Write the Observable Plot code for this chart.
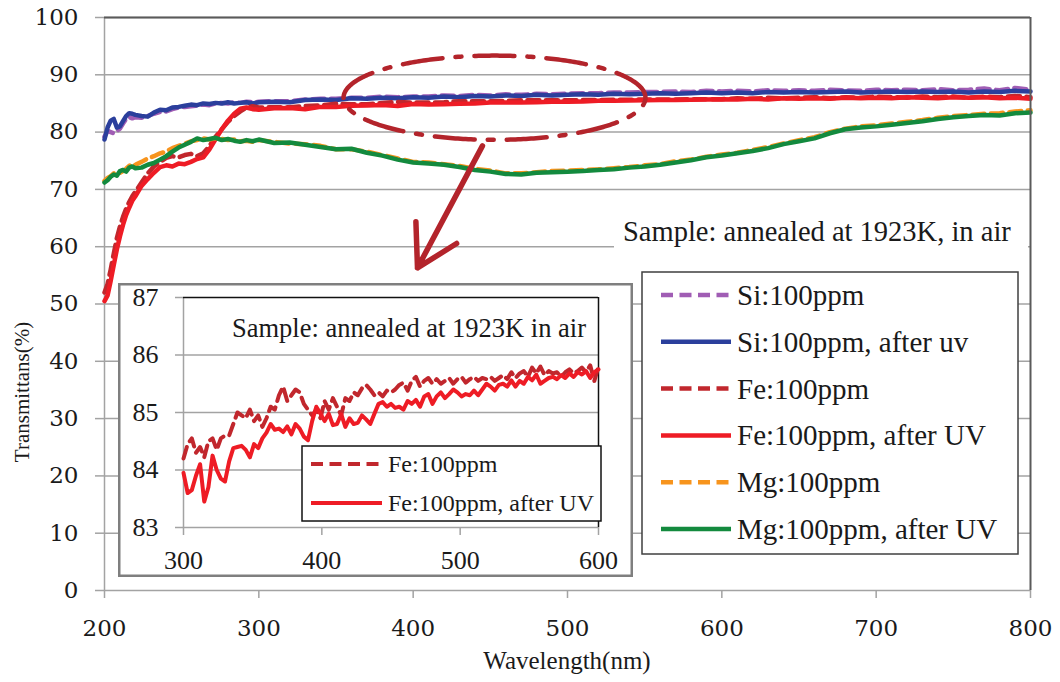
<!DOCTYPE html>
<html><head><meta charset="utf-8">
<script src="https://cdn.jsdelivr.net/npm/d3@7"></script>
<script src="https://cdn.jsdelivr.net/npm/@observablehq/plot@0.6"></script>
<style>
html,body{margin:0;padding:0;background:#fff;overflow:hidden;}
#wrap{position:relative;width:1060px;height:682px;}
#wrap > svg{position:absolute;}
</style></head><body><div id="wrap"></div>
<script>
// ---------- data (main chart) ----------
const wavelengths = [...d3.range(200, 221, 2), ...d3.range(224, 301, 4), ...d3.range(310, 801, 10)];
const xTicks = [200, 300, 400, 500, 600, 700, 800];
const yTicks = [0, 10, 20, 30, 40, 50, 60, 70, 80, 90, 100];
const seriesNames = ["Si:100ppm", "Si:100ppm, after uv", "Fe:100ppm", "Fe:100ppm, after UV", "Mg:100ppm", "Mg:100ppm, after UV"];

const siY = [79.2, 80.2, 80.0, 79.8, 80.2, 80.6, 81.5, 82.3, 82.6, 82.4, 82.6,
  82.5, 82.8, 83.2, 83.5, 83.6, 84.0, 84.3, 84.4, 84.5, 84.6, 84.8, 84.7, 85.0, 85.1, 85.0, 85.2, 85.1, 85.3, 85.2, 85.3,
  85.4, 85.4, 85.7, 85.8, 85.8, 86.0, 86.0, 86.2, 86.1, 86.2,
  86.2, 86.4, 86.3, 86.5, 86.4, 86.6, 86.5, 86.7, 86.6, 86.7,
  86.8, 86.8, 86.9, 86.9, 87.0, 87.0, 87.1, 87.0, 87.2, 87.1,
  87.2, 87.1, 87.3, 87.2, 87.3, 87.2, 87.4, 87.3, 87.2, 87.4,
  87.3, 87.4, 87.3, 87.5, 87.3, 87.4, 87.6, 87.3, 87.7, 87.4];
const siUvY = [78.7, 80.8, 82.0, 82.3, 80.8, 81.0, 81.9, 82.8, 83.3, 83.2, 83.0,
  82.8, 82.7, 83.4, 83.9, 83.8, 84.3, 84.4, 84.6, 84.8, 84.7, 85.0, 84.9, 85.1, 85.0, 85.2, 85.0, 85.1, 85.2, 85.0, 85.2,
  85.3, 85.2, 85.6, 85.7, 85.6, 85.9, 85.8, 86.0, 85.9, 86.1,
  86.0, 86.2, 86.1, 86.3, 86.2, 86.4, 86.3, 86.5, 86.4, 86.5,
  86.6, 86.5, 86.7, 86.6, 86.7, 86.8, 86.7, 86.8, 86.9, 86.8,
  86.9, 86.8, 87.0, 86.9, 87.0, 86.9, 87.0, 87.1, 86.9, 87.0,
  87.1, 87.0, 87.1, 87.0, 87.1, 86.9, 87.1, 87.0, 87.2, 87.1];
const feY = [52.0, 53.5, 56.0, 58.8, 61.5, 63.5, 65.2, 66.6, 67.8, 68.8, 69.6,
  71.2, 72.8, 74.0, 74.8, 75.5, 75.8, 75.6, 76.0, 76.2, 75.8, 76.3, 77.6, 79.2, 80.5, 81.8, 82.8, 83.6, 84.3, 84.5, 84.3,
  84.35, 84.35, 84.55, 84.65, 84.95, 84.85, 84.85, 85.1, 85.25, 85.15,
  85.15, 85.2, 85.4, 85.4, 85.4, 85.45, 85.55, 85.55, 85.55, 85.55,
  85.6, 85.6, 85.65, 85.65, 85.7, 85.7, 85.7, 85.72, 85.75, 85.75,
  85.9, 85.8, 86.0, 85.9, 86.0, 86.1, 85.9, 86.1, 86.0, 86.2,
  86.1, 86.0, 86.2, 86.1, 86.2, 86.0, 86.2, 86.1, 86.3, 86.1];
const feUvY = [50.5, 51.5, 54.0, 56.8, 59.5, 61.8, 63.8, 65.5, 66.8, 68.0, 68.8,
  70.6, 71.8, 72.9, 73.9, 74.2, 74.0, 74.5, 74.4, 74.8, 75.3, 75.6, 77.0, 78.8, 80.5, 82.0, 83.2, 84.1, 84.3, 84.0, 83.9,
  84.15, 84.2, 84.0, 84.4, 84.4, 84.6, 84.65, 84.75, 84.55, 84.9,
  84.8, 84.85, 84.95, 85.0, 85.15, 85.15, 85.15, 85.2, 85.3, 85.3,
  85.35, 85.45, 85.45, 85.5, 85.55, 85.6, 85.6, 85.65, 85.68, 85.72,
  85.7, 85.8, 85.7, 85.9, 85.8, 85.9, 85.8, 86.0, 85.9, 86.0,
  85.9, 86.1, 86.0, 85.9, 86.1, 86.0, 86.1, 85.9, 86.0, 85.8];
const mgY = [71.5, 72.0, 72.3, 72.8, 73.0, 72.9, 73.2, 73.6, 74.1, 74.5, 74.3,
  74.8, 75.4, 75.8, 76.3, 76.6, 77.2, 77.6, 78.0, 78.4, 78.6, 78.9, 78.7, 78.9, 78.8, 78.6, 78.7, 78.4, 78.5, 78.3, 78.6,
  78.3, 78.0, 77.9, 77.6, 77.0, 77.0, 76.6, 76.0, 75.4, 74.8,
  74.7, 74.4, 74.1, 73.6, 73.3, 72.8, 72.8, 73.0, 73.2, 73.3,
  73.4, 73.5, 73.7, 73.9, 74.2, 74.4, 74.9, 75.2, 75.7, 76.1,
  76.4, 76.9, 77.4, 78.0, 78.6, 79.1, 80.0, 80.6, 81.0, 81.2,
  81.5, 81.8, 82.1, 82.5, 82.8, 83.0, 83.2, 83.3, 83.6, 83.8];
const mgUvY = [71.2, 71.6, 72.2, 72.6, 72.4, 73.2, 73.4, 73.1, 73.8, 74.0, 73.7,
  73.8, 74.3, 74.6, 75.2, 75.8, 76.6, 77.3, 77.8, 78.3, 78.9, 78.6, 78.8, 79.0, 78.6, 78.8, 78.5, 78.3, 78.6, 78.4, 78.7,
  78.1, 78.2, 77.8, 77.4, 77.0, 77.1, 76.4, 75.9, 75.2, 74.7,
  74.5, 74.3, 73.9, 73.4, 73.1, 72.7, 72.6, 72.9, 73.0, 73.1,
  73.2, 73.4, 73.5, 73.8, 74.0, 74.3, 74.7, 75.1, 75.6, 75.9,
  76.3, 76.7, 77.2, 77.9, 78.4, 78.9, 79.8, 80.5, 80.8, 81.0,
  81.3, 81.6, 81.9, 82.3, 82.6, 82.8, 83.0, 82.9, 83.3, 83.4];

// ---------- data (inset) ----------
const insetWavelengths = d3.range(300, 601, 3);
const insetXTicks = [300, 400, 500, 600];
const insetYTicks = [83, 84, 85, 86, 87];
const insetNames = ["Fe:100ppm", "Fe:100ppm, after UV"];
const insetFeY = [84.2, 84.45, 84.55, 84.3, 84.4, 84.22, 84.5, 84.55, 84.35, 84.55,
  84.6, 84.6, 84.8, 85.0, 84.95, 84.9, 85.05, 84.85, 84.95, 84.75,
  84.9, 85.1, 85.05, 85.3, 85.45, 85.2, 85.3, 85.4, 85.35, 85.15,
  85.05, 84.95, 85.05, 84.9, 85.2, 85.05, 85.25, 85.1, 84.95, 85.25,
  85.2, 85.35, 85.3, 85.42, 85.48, 85.4, 85.3, 85.35, 85.28, 85.38,
  85.35, 85.4, 85.48, 85.52, 85.38, 85.55, 85.62, 85.45, 85.55, 85.6,
  85.5, 85.58, 85.5, 85.55, 85.6, 85.5, 85.58, 85.62, 85.52, 85.58,
  85.62, 85.55, 85.6, 85.58, 85.62, 85.55, 85.6, 85.65, 85.58, 85.7,
  85.6, 85.68, 85.72, 85.62, 85.78, 85.68, 85.8, 85.65, 85.72, 85.68,
  85.7, 85.62, 85.7, 85.75, 85.68, 85.72, 85.78, 85.7, 85.82, 85.55,
  85.8];
const insetFeUvY = [83.95, 83.6, 83.65, 83.9, 84.1, 83.45, 83.7, 84.25, 84.0, 83.85,
  83.8, 84.15, 84.38, 84.4, 84.42, 84.35, 84.22, 84.45, 84.38, 84.55,
  84.65, 84.8, 84.7, 84.72, 84.66, 84.76, 84.62, 84.8, 84.72, 84.58,
  84.52, 84.85, 85.1, 84.98, 84.85, 84.98, 84.78, 84.8, 84.97, 84.75,
  84.9, 84.8, 84.82, 84.95, 84.88, 84.8, 84.98, 85.15, 85.18, 85.1,
  85.15, 85.08, 85.1, 85.05, 85.2, 85.15, 85.22, 85.1, 85.28, 85.32,
  85.15, 85.28, 85.35, 85.25, 85.32, 85.4, 85.35, 85.28, 85.32, 85.3,
  85.38, 85.3, 85.4, 85.5, 85.45, 85.38, 85.48, 85.5, 85.45, 85.56,
  85.45, 85.55, 85.5, 85.62, 85.56, 85.66, 85.5, 85.55, 85.6, 85.62,
  85.58, 85.65, 85.6, 85.68, 85.62, 85.7, 85.66, 85.72, 85.6, 85.7,
  85.75];

// annotation (data units): highlighted ellipse and arrow
const ellipseSpec = {cx: 452.7, cy: 86.0, rx: 97.8, ry: 7.35};
const arrowSpec = [{x1: 444.9, y1: 77.6, x2: 402.8, y2: 56.3}];

// ---------- styles ----------
const serif = "'Liberation Serif', 'Times New Roman', serif";
const tickFont = "'DejaVu Serif', serif";
const colors = ["#a05db4", "#2b3f9c", "#c1272d", "#ee1c25", "#f7941d", "#138a3e"];
const dashes = ["12,6.5", null, "12,6.5", null, "12,6.5", null];
const annoColor = "#b3242b";
const gridColor = "#a3a3a3";
const fmtInt = d3.format("d");

const mainYs = [siY, siUvY, feY, feUvY, mgY, mgUvY];
const lineMarks = mainYs.map((ys, k) =>
  Plot.line(wavelengths.map((x, i) => ({x, y: ys[i]})), {
    x: "x", y: "y", stroke: colors[k], strokeWidth: 4.5,
    strokeDasharray: dashes[k], strokeLinejoin: "round"
  }));

const ellipsePts = d3.range(0, 361, 1).map(a => ({
  x: ellipseSpec.cx + ellipseSpec.rx * Math.cos(a * Math.PI / 180),
  y: ellipseSpec.cy + ellipseSpec.ry * Math.sin(a * Math.PI / 180)
}));

const main = Plot.plot({
  width: 1060, height: 682,
  marginLeft: 104, marginRight: 30, marginTop: 17, marginBottom: 92,
  x: {domain: [200, 800]},
  y: {domain: [0, 100]},
  style: {fontFamily: tickFont, fontSize: "23px", background: "white", color: "#1a1a1a", overflow: "visible"},
  marks: [
    Plot.gridY(yTicks, {stroke: gridColor, strokeOpacity: 1, strokeWidth: 1.5}),
    Plot.ruleX([200], {stroke: gridColor, strokeWidth: 1.5}),
    Plot.axisY(yTicks, {tickSize: 9, tickPadding: 17, stroke: gridColor, strokeWidth: 1.5, fill: "#1a1a1a",
      fontSize: 23, fontFamily: tickFont, tickFormat: fmtInt, label: null}),
    Plot.axisX(xTicks, {tickSize: 8, tickPadding: 21, stroke: gridColor, strokeWidth: 1.5, fill: "#1a1a1a",
      fontSize: 23, fontFamily: tickFont, tickFormat: fmtInt, label: null}),
    ...lineMarks,
    Plot.line(ellipsePts, {x: "x", y: "y", stroke: annoColor, strokeWidth: 4.5, strokeDasharray: "40,13,6,13"}),
    Plot.arrow(arrowSpec, {x1: "x1", y1: "y1", x2: "x2", y2: "y2", stroke: annoColor, strokeWidth: 5.5, headLength: 30}),
    Plot.ruleY([100], {stroke: "#5a5a5a", strokeWidth: 2}),
    Plot.ruleX([800], {stroke: "#5a5a5a", strokeWidth: 2})
  ]
});
main.style.left = "0px"; main.style.top = "0px";
document.getElementById("wrap").appendChild(main);

function addText(sel, x, y, str, size, anchor) {
  return sel.append("text").attr("x", x).attr("y", y).attr("text-anchor", anchor || "start")
    .style("font-family", serif).style("font-size", size + "px").attr("fill", "#1a1a1a").text(str);
}

const ms = d3.select(main);
// axis titles
ms.append("text").attr("transform", "translate(22,392) rotate(-90)")
  .attr("text-anchor", "middle").attr("dy", "0.35em")
  .style("font-family", serif).style("font-size", "21px").attr("fill", "#1a1a1a")
  .text("Transmittans(%)");
addText(ms, 567, 669, "Wavelength(nm)", 25, "middle");
// sample note
ms.append("rect").attr("x", 614).attr("y", 220).attr("width", 414).attr("height", 37).attr("fill", "white");
addText(ms, 623, 241, "Sample: annealed at 1923K, in air", 28.5, "start");
// main legend
const lg = ms.append("g");
lg.append("rect").attr("x", 642).attr("y", 272).attr("width", 376).attr("height", 282)
  .attr("fill", "white").attr("stroke", "#3f3f3f").attr("stroke-width", 1.5);
seriesNames.forEach((name, k) => {
  const yy = 295 + k * 46.8;
  lg.append("line").attr("x1", 661).attr("x2", 731).attr("y1", yy).attr("y2", yy)
    .attr("stroke", colors[k]).attr("stroke-width", 4.5)
    .attr("stroke-dasharray", dashes[k] || null);
  addText(lg, 737, yy + 10, name, 29, "start");
});

// ---------- inset ----------
const insetColors = [colors[2], colors[3]];
const insetDashes = ["12,6.5", null];
const insetYs = [insetFeY, insetFeUvY];
const inset = Plot.plot({
  width: 515, height: 294,
  marginLeft: 65, marginRight: 35, marginTop: 14, marginBottom: 50,
  x: {domain: [300, 600]},
  y: {domain: [83, 87]},
  style: {fontFamily: serif, fontSize: "26px", background: "white", color: "#1a1a1a", overflow: "visible"},
  marks: [
    Plot.gridY([84, 85, 86], {stroke: gridColor, strokeOpacity: 1, strokeWidth: 1.5}),
    Plot.ruleY([83], {stroke: gridColor, strokeWidth: 1.5}),
    Plot.ruleX([300], {stroke: gridColor, strokeWidth: 1.5}),
    Plot.ruleY([87], {stroke: "#111", strokeWidth: 1.5}),
    Plot.ruleX([600], {stroke: "#111", strokeWidth: 1.5}),
    Plot.axisY(insetYTicks, {tickSize: 8, tickPadding: 17, stroke: gridColor, strokeWidth: 1.5, fill: "#1a1a1a",
      fontSize: 26, fontFamily: serif, tickFormat: fmtInt, label: null}),
    Plot.axisX(insetXTicks, {tickSize: 8, tickPadding: 15, stroke: gridColor, strokeWidth: 1.5, fill: "#1a1a1a",
      fontSize: 26, fontFamily: serif, tickFormat: fmtInt, label: null}),
    ...insetYs.map((ys, k) => Plot.line(insetWavelengths.map((x, i) => ({x, y: ys[i]})), {
      x: "x", y: "y", stroke: insetColors[k], strokeWidth: 4, strokeDasharray: insetDashes[k], strokeLinejoin: "round"
    }))
  ]
});
inset.style.left = "118px"; inset.style.top = "283px";
document.getElementById("wrap").appendChild(inset);
const is = d3.select(inset);
is.append("rect").attr("x", 1.25).attr("y", 1.25).attr("width", 512.5).attr("height", 291.5)
  .attr("fill", "none").attr("stroke", "#7f7f7f").attr("stroke-width", 2.5);
addText(is, 114, 54, "Sample: annealed at 1923K in air", 26.5, "start");
const ilg = is.append("g");
ilg.append("rect").attr("x", 184).attr("y", 163).attr("width", 299).attr("height", 75)
  .attr("fill", "white").attr("stroke", "#111").attr("stroke-width", 1.5);
insetNames.forEach((name, k) => {
  const yy = 181 + k * 39;
  ilg.append("line").attr("x1", 193).attr("x2", 264).attr("y1", yy).attr("y2", yy)
    .attr("stroke", insetColors[k]).attr("stroke-width", 4)
    .attr("stroke-dasharray", insetDashes[k] || null);
  addText(ilg, 270, yy + 8, name, 24, "start");
});
</script></body></html>
